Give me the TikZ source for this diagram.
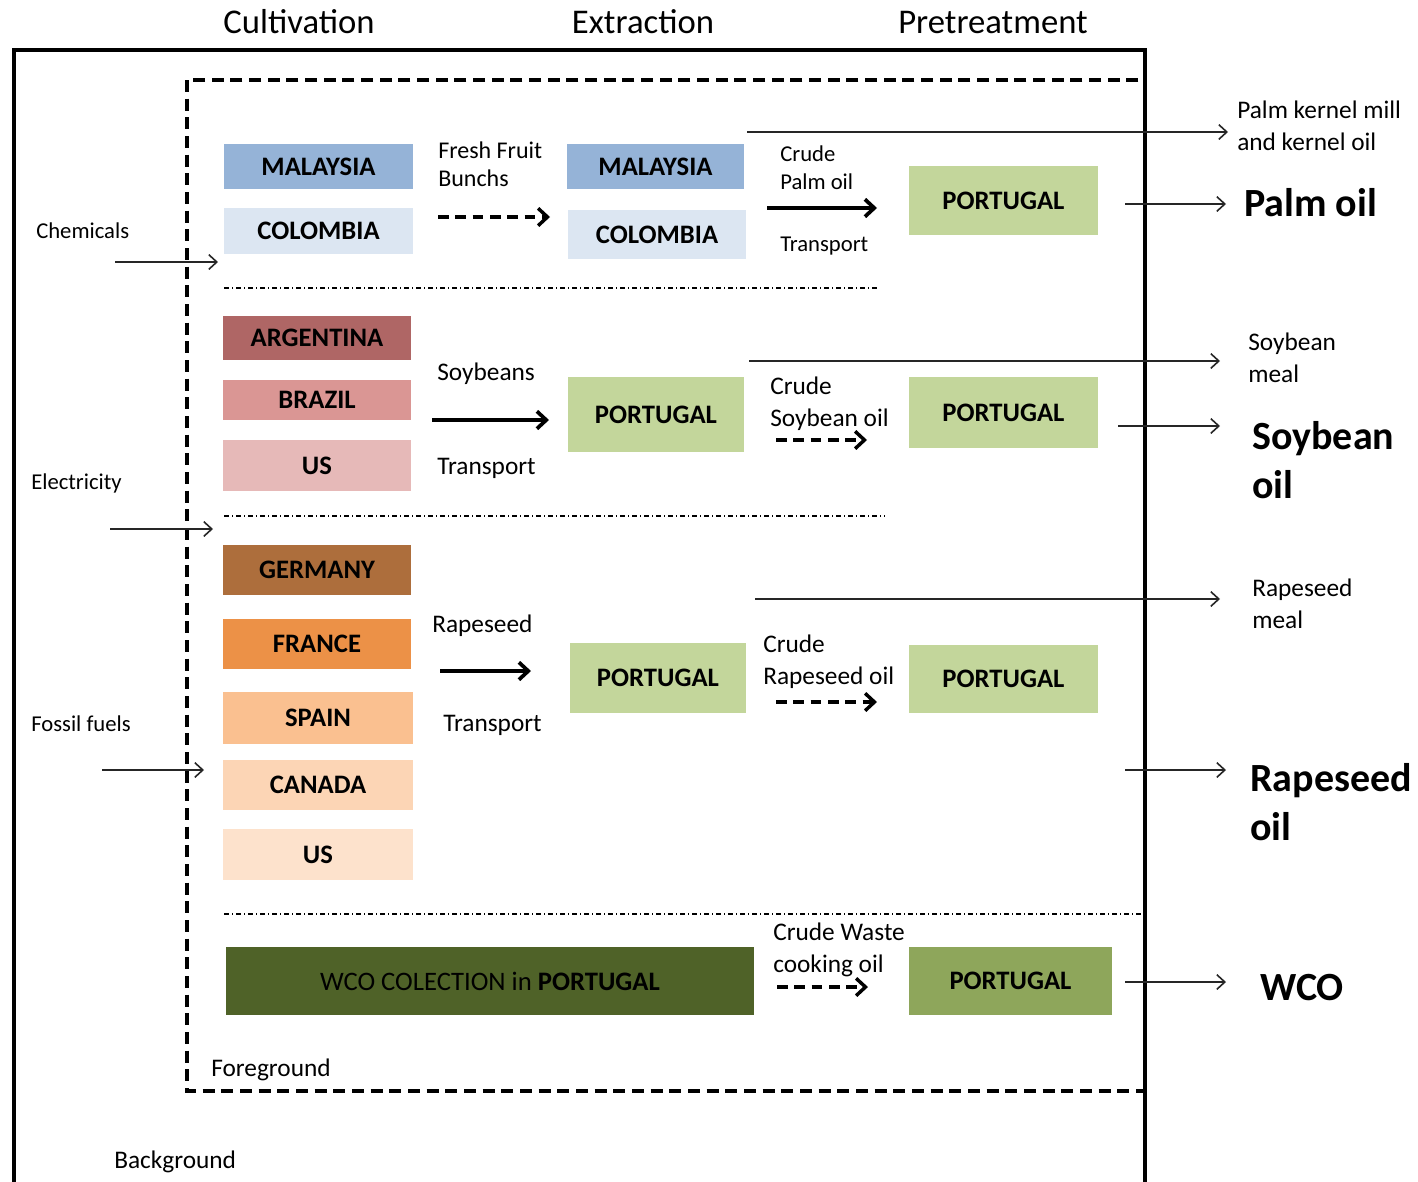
\documentclass[tikz,border=0pt]{standalone}
\usepackage{fontspec}
\setmainfont{Carlito}
\usetikzlibrary{arrows.meta}
\definecolor{palmA}{HTML}{95B3D7}
\definecolor{palmB}{HTML}{DCE6F2}
\definecolor{soyA}{HTML}{AF6665}
\definecolor{soyB}{HTML}{DA9694}
\definecolor{soyC}{HTML}{E6B9B8}
\definecolor{rapeA}{HTML}{AD6E3C}
\definecolor{rapeB}{HTML}{EC9147}
\definecolor{rapeC}{HTML}{FAC090}
\definecolor{rapeD}{HTML}{FCD5B5}
\definecolor{rapeE}{HTML}{FDE2CC}
\definecolor{portA}{HTML}{C3D69B}
\definecolor{wcoA}{HTML}{4F6228}
\definecolor{wcoB}{HTML}{8EA65B}

\begin{document}
\begin{tikzpicture}[x=0.75pt, y=-0.75pt,
    cbox/.style={rectangle, inner sep=0pt, font=\bfseries\fontsize{20}{24}\selectfont},
    sz/.style 2 args={minimum width=#1*0.75pt, minimum height=#2*0.75pt},
    txt/.style={anchor=base west, inner sep=0pt, font=\fontsize{19}{24}\selectfont},
    mtxt/.style={anchor=north west, inner sep=0pt, align=left, font=\fontsize{19}{24}\selectfont},
    bigtxt/.style={anchor=north west, inner sep=0pt, align=left, font=\bfseries\fontsize{30}{37}\selectfont},
    thinarr/.style={-{Straight Barb[length=6pt, width=11pt]}, line width=1.2pt, black!85},
    thickarr/.style={-{Straight Barb[length=7pt, width=13pt]}, line width=2.8pt},
    dasharr/.style={-{Straight Barb[length=7pt, width=13pt]}, line width=2.6pt, dash pattern=on 8pt off 5pt}]
    \useasboundingbox (0,0) rectangle (1418,1182);
    %the frames
    \draw[line width=2.4pt] (14,1182) -- (14,50) -- (1145,50) -- (1145,1182);
    \draw[line width=2.6pt, dash pattern=on 9pt off 5pt] (187,80) rectangle (1145,1091);
    \draw[line width=1pt, dash pattern=on 4pt off 2pt on 1pt off 2pt]
        (224,288) -- (878,288) (224,516) -- (885,516) (224,914) -- (1143,914);
    %stage titles
    \path[font=\fontsize{26}{30}\selectfont] (299,33) node[anchor=base] (cult) {Cultivation}
        (643,33) node[anchor=base] (extr) {Extraction}
        (993,33) node[anchor=base] (pret) {Pretreatment};
    %palm oil
    \node[cbox, sz={189}{45}, fill=palmA] (cmal) at (318.5,166.5) {MALAYSIA};
    \node[cbox, sz={189}{46}, fill=palmB] (ccol) at (318.5,231) {COLOMBIA};
    \node[cbox, sz={177}{45}, fill=palmA] (emal) at (655.5,166.5) {MALAYSIA};
    \node[cbox, sz={178}{49}, fill=palmB] (ecol) at (657,234.5) {COLOMBIA};
    \node[cbox, sz={189}{69}, fill=portA] (ppalm) at (1003.5,200.5) {PORTUGAL};
    %soybean oil
    \node[cbox, sz={188}{44}, fill=soyA] (carg) at (317,338) {ARGENTINA};
    \node[cbox, sz={188}{40}, fill=soyB] (cbra) at (317,400) {BRAZIL};
    \node[cbox, sz={188}{51}, fill=soyC] (cus) at (317,465.5) {US};
    \node[cbox, sz={176}{75}, fill=portA] (esoy) at (656,414.5) {PORTUGAL};
    \node[cbox, sz={189}{71}, fill=portA] (psoy) at (1003.5,412.5) {PORTUGAL};
    %rapeseed oil
    \node[cbox, sz={188}{50}, fill=rapeA] (cger) at (317,570) {GERMANY};
    \node[cbox, sz={188}{50}, fill=rapeB] (cfra) at (317,644) {FRANCE};
    \node[cbox, sz={190}{52}, fill=rapeC] (cspa) at (318,718) {SPAIN};
    \node[cbox, sz={190}{50}, fill=rapeD] (ccan) at (318,785) {CANADA};
    \node[cbox, sz={190}{51}, fill=rapeE] (cusr) at (318,854.5) {US};
    \node[cbox, sz={176}{70}, fill=portA] (erape) at (658,678) {PORTUGAL};
    \node[cbox, sz={189}{68}, fill=portA] (prape) at (1003.5,679) {PORTUGAL};
    %waste cooking oil
    \node[cbox, sz={528}{68}, fill=wcoA, font=\fontsize{20}{24}\selectfont] (cwco) at (490,981) {WCO COLECTION in \textbf{PORTUGAL}};
    \node[cbox, sz={203}{68}, fill=wcoB] (pwco) at (1010.5,981) {PORTUGAL};
    %flow labels
    \path (438,142) node[mtxt, font=\fontsize{18}{21}\selectfont] (ffb) {Fresh Fruit\\Bunchs}
        (780,145) node[mtxt, font=\fontsize{17}{21}\selectfont] (cpo) {Crude\\Palm oil}
        (780,251) node[txt, font=\fontsize{17}{21}\selectfont] (tr1) {Transport}
        (437,380) node[txt] (sbean) {Soybeans}
        (437,474) node[txt] (tr2) {Transport}
        (770,377) node[mtxt] (cso) {Crude\\Soybean oil}
        (432,632) node[txt] (rseed) {Rapeseed}
        (443,731) node[txt] (tr3) {Transport}
        (763,635) node[mtxt] (cro) {Crude\\Rapeseed oil}
        (773,923) node[mtxt] (cwo) {Crude Waste\\cooking oil};
    %inputs
    \path (36,238) node[txt, font=\fontsize{17}{21}\selectfont] (chem) {Chemicals}
        (31,489) node[txt, font=\fontsize{17}{21}\selectfont] (elec) {Electricity}
        (31,731) node[txt, font=\fontsize{17}{21}\selectfont] (foss) {Fossil fuels};
    %outputs
    \path (1237,101) node[mtxt] (pkm) {Palm kernel mill\\and kernel oil}
        (1244,216) node[txt, font=\bfseries\fontsize{30}{37}\selectfont] (palm) {Palm oil}
        (1248,333) node[mtxt] (smeal) {Soybean\\meal}
        (1252,421) node[bigtxt] (soil) {Soybean\\oil}
        (1252,579) node[mtxt] (rmeal) {Rapeseed\\meal}
        (1250,763) node[bigtxt] (roil) {Rapeseed\\oil}
        (1260,1000) node[txt, font=\bfseries\fontsize{30}{37}\selectfont] (wco) {WCO};
    \path (211,1076) node[txt] (fg) {Foreground}
        (114,1168) node[txt] (bg) {Background};
    %arrow ends
    \coordinate (ch1) at (115,262); \coordinate (ch2) at (218,262);
    \coordinate (el1) at (110,529); \coordinate (el2) at (213,529);
    \coordinate (fo1) at (102,770); \coordinate (fo2) at (204,770);
    \coordinate (ff1) at (438,217); \coordinate (ff2) at (550,217);
    \coordinate (cp1) at (767,208); \coordinate (cp2) at (877,208);
    \coordinate (pk1) at (747,132); \coordinate (pk2) at (1228,132);
    \coordinate (po1) at (1125,204); \coordinate (po2) at (1226,204);
    \coordinate (sb1) at (432,420); \coordinate (sb2) at (549,420);
    \coordinate (cs1) at (776,440); \coordinate (cs2) at (867,440);
    \coordinate (sm1) at (749,361); \coordinate (sm2) at (1220,361);
    \coordinate (so1) at (1118,426); \coordinate (so2) at (1220,426);
    \coordinate (rs1) at (440,671); \coordinate (rs2) at (531,671);
    \coordinate (cr1) at (776,702); \coordinate (cr2) at (877,702);
    \coordinate (rm1) at (755,599); \coordinate (rm2) at (1220,599);
    \coordinate (ro1) at (1125,770); \coordinate (ro2) at (1226,770);
    \coordinate (cw1) at (777,987); \coordinate (cw2) at (868,987);
    \coordinate (wo1) at (1125,982); \coordinate (wo2) at (1226,982);
    %the arrows
    \draw[thinarr] (ch1) -- (ch2);
    \draw[thinarr] (el1) -- (el2);
    \draw[thinarr] (fo1) -- (fo2);
    \draw[thinarr] (pk1) -- (pk2);
    \draw[thinarr] (po1) -- (po2);
    \draw[thinarr] (sm1) -- (sm2);
    \draw[thinarr] (so1) -- (so2);
    \draw[thinarr] (rm1) -- (rm2);
    \draw[thinarr] (ro1) -- (ro2);
    \draw[thinarr] (wo1) -- (wo2);
    \draw[dasharr] (ff1) -- (ff2);
    \draw[thickarr] (cp1) -- (cp2);
    \draw[thickarr] (sb1) -- (sb2);
    \draw[dasharr] (cs1) -- (cs2);
    \draw[thickarr] (rs1) -- (rs2);
    \draw[dasharr] (cr1) -- (cr2);
    \draw[dasharr] (cw1) -- (cw2);
\end{tikzpicture}
\end{document}
